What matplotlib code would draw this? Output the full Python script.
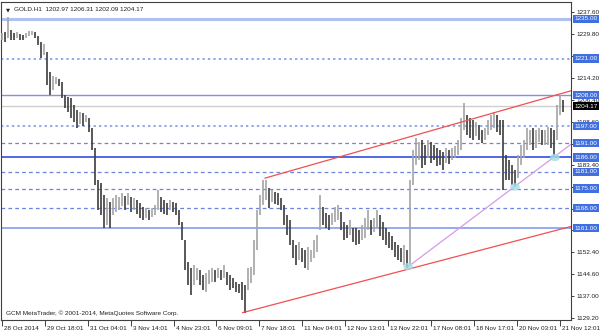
import numpy as np
import matplotlib
matplotlib.use("Agg")
import matplotlib.pyplot as plt
from matplotlib.patches import Ellipse
import matplotlib.transforms as mtransforms

plt.rcParams['font.family'] = ['Liberation Sans', 'DejaVu Sans']

# ---------------- data ----------------
highs = [1230.1, 1230.4, 1235.7, 1231.1, 1230.1, 1230.4, 1229.7, 1229.4, 1230.1, 1230.8,
         1230.8, 1230.4, 1229.0, 1226.9, 1226.2, 1223.3, 1216.3, 1214.9, 1214.5, 1213.8,
         1212.7, 1208.1, 1207.4, 1207.1, 1204.6, 1202.8, 1202.1, 1201.8, 1201.1, 1200.0,
         1196.4, 1189.4, 1178.0, 1177.0, 1172.7, 1171.7, 1170.3, 1171.7, 1172.7, 1172.0,
         1173.4, 1172.4, 1173.4, 1172.0, 1171.7, 1171.0, 1169.9, 1168.5, 1168.1, 1167.4,
         1168.1, 1169.2, 1174.5, 1172.0, 1171.0, 1169.9, 1171.0, 1170.3, 1169.9, 1167.4,
         1163.2, 1156.8, 1149.0, 1146.9, 1148.0, 1146.9, 1146.2, 1144.4, 1145.1, 1146.2,
         1146.9, 1146.2, 1146.9, 1146.2, 1148.0, 1145.5, 1144.4, 1143.4, 1142.0, 1141.2,
         1142.0, 1140.9, 1146.9, 1147.3, 1156.8, 1167.4, 1172.7, 1178.0, 1178.0, 1175.2,
         1174.5, 1173.8, 1173.4, 1171.7, 1169.2, 1165.7, 1163.9, 1156.8, 1155.0, 1156.1,
         1154.0, 1153.3, 1154.3, 1153.3, 1156.8, 1158.6, 1172.7, 1168.5, 1166.4, 1165.7,
         1166.4, 1168.5, 1169.2, 1166.7, 1163.2, 1162.1, 1163.9, 1161.1, 1161.1, 1160.4,
         1162.1, 1164.6, 1167.4, 1163.9, 1164.6, 1167.4, 1165.7, 1163.2, 1161.1, 1159.6,
         1158.2, 1156.1, 1155.0, 1154.0, 1155.0, 1153.3, 1178.0, 1188.7, 1192.9, 1191.5,
         1192.2, 1190.4, 1192.2, 1191.5, 1190.4, 1189.4, 1188.7, 1188.0, 1189.4, 1188.7,
         1189.4, 1190.1, 1192.2, 1200.0, 1205.3, 1201.1, 1200.0, 1199.3, 1198.6, 1197.5,
         1195.7, 1196.4, 1199.3, 1201.1, 1202.1, 1201.1, 1199.3, 1199.3, 1186.9, 1185.1,
         1183.4, 1181.6, 1186.9, 1190.4, 1192.2, 1196.4, 1195.7, 1196.4, 1195.7, 1196.4,
         1195.7, 1195.7, 1196.8, 1196.4, 1195.7, 1204.6, 1208.1, 1206.31]
lows = [1227.6, 1226.9, 1228.3, 1227.6, 1227.6, 1228.3, 1227.6, 1227.6, 1228.3, 1229.0,
        1229.4, 1228.3, 1225.8, 1221.2, 1222.3, 1211.7, 1208.1, 1209.9, 1212.0, 1211.3,
        1207.1, 1203.5, 1202.1, 1200.0, 1198.6, 1196.4, 1197.9, 1197.2, 1198.6, 1195.0,
        1188.7, 1176.3, 1167.4, 1165.7, 1161.1, 1162.1, 1161.1, 1165.7, 1166.7, 1167.4,
        1168.8, 1167.4, 1169.2, 1166.7, 1167.4, 1166.0, 1164.6, 1163.9, 1164.6, 1163.9,
        1165.0, 1165.7, 1167.4, 1166.7, 1166.0, 1165.7, 1167.4, 1166.7, 1165.7, 1162.1,
        1156.8, 1146.2, 1140.9, 1137.4, 1140.9, 1142.7, 1140.9, 1139.1, 1138.4, 1141.2,
        1142.0, 1142.0, 1143.4, 1142.7, 1143.4, 1140.9, 1139.1, 1139.8, 1138.4, 1138.1,
        1135.6, 1131.0, 1139.1, 1141.6, 1144.4, 1153.3, 1165.7, 1169.2, 1171.0, 1168.1,
        1170.3, 1169.6, 1169.2, 1167.4, 1162.1, 1158.6, 1155.0, 1150.4, 1148.0, 1149.7,
        1149.0, 1146.9, 1146.2, 1149.0, 1150.4, 1152.6, 1160.4, 1162.1, 1161.1, 1160.4,
        1162.1, 1163.2, 1163.9, 1160.4, 1156.8, 1157.5, 1158.6, 1156.1, 1155.0, 1155.4,
        1156.8, 1157.5, 1160.4, 1158.6, 1159.6, 1161.1, 1158.2, 1156.8, 1155.0, 1154.0,
        1153.3, 1150.8, 1149.7, 1149.0, 1148.0, 1146.9, 1148.0, 1176.3, 1183.4, 1185.1,
        1182.3, 1183.4, 1185.8, 1184.1, 1185.1, 1183.0, 1183.4, 1181.6, 1184.1, 1183.7,
        1185.1, 1185.8, 1186.9, 1188.7, 1195.7, 1194.0, 1192.9, 1192.2, 1193.6, 1192.2,
        1191.1, 1192.2, 1194.0, 1195.7, 1196.4, 1195.0, 1194.0, 1174.5, 1178.0, 1178.0,
        1176.3, 1175.6, 1178.8, 1183.4, 1185.8, 1188.7, 1190.4, 1188.7, 1189.4, 1191.5,
        1190.4, 1190.4, 1190.4, 1189.4, 1186.2, 1192.2, 1201.1, 1202.09]

x_labels = ["28 Oct 2014", "29 Oct 18:01", "31 Oct 04:01", "3 Nov 14:01", "4 Nov 23:01",
            "6 Nov 09:01", "7 Nov 18:01", "11 Nov 04:01", "12 Nov 13:01", "13 Nov 22:01",
            "17 Nov 08:01", "18 Nov 17:01", "20 Nov 03:01", "21 Nov 12:01"]
y_ticks = [1237.6, 1229.8, 1222.0, 1214.2, 1206.4, 1198.6, 1190.8, 1183.4,
           1175.6, 1167.8, 1160.2, 1152.4, 1144.6, 1137.0, 1129.2]
hidden_ticks = [1190.8, 1167.8]

solid_levels = [1235.0, 1208.0, 1186.0, 1161.0]
dotted_levels = [1221.0, 1197.0]
dashed_levels = [1191.0, 1181.0, 1175.0, 1168.0]
last_price = 1204.17
ohlc_text = "GOLD.H1  1202.97 1206.31 1202.09 1204.17"

upper_line = [(87.7, 1178.7), (189.7, 1209.6)]
lower_line = [(80.2, 1131.1), (189.7, 1161.6)]
support_line = [(135.4, 1147.4), (189.7, 1190.7)]
touch_points = [(135.4, 1147.4), (171.0, 1175.6), (184.3, 1186.0)]

# ---------------- figure ----------------
W, H = 600, 333
fig = plt.figure(figsize=(W / 100, H / 100), dpi=100)
ax = fig.add_axes([1 / W, 1 - 320 / H, 570 / W, 318 / H])
ax.set_xlim(-0.33, 189.67)
ax.set_ylim(1128.5, 1241.0)

n = len(highs)
xs = np.arange(n)
mids = (np.array(highs) + np.array(lows)) / 2
for i in range(n):
    up = i == 0 or mids[i] >= mids[i - 1]
    col = '#a4a4a4' if up else '#3c3c3c'
    ax.plot([xs[i], xs[i]], [lows[i], highs[i]], color=col, lw=1.2,
            solid_capstyle='butt', zorder=3)

# horizontal levels
lvl_col = {1235.0: ('#aec2f2', 2.2), 1208.0: ('#7b93ea', 1.0),
           1186.0: ('#4d68e6', 1.4), 1161.0: ('#7b93ea', 1.1)}
for v in solid_levels:
    c, lw = lvl_col[v]
    ax.axhline(v, color=c, lw=lw, zorder=2)
for v in dotted_levels:
    ax.axhline(v, color='#91a8ee', lw=1.4, ls=(0, (1.2, 1.6)), zorder=2)
for v in dashed_levels:
    ax.axhline(v, color='#6d84dc', lw=0.9, ls=(0, (3, 2.5)), zorder=2)
ax.axhline(last_price, color='#cfcfcf', lw=1.0, zorder=1)

# trendlines
for ln, c in [(upper_line, '#f05050'), (lower_line, '#f05050'), (support_line, '#d79be8')]:
    ax.plot([ln[0][0], ln[1][0]], [ln[0][1], ln[1][1]], color=c, lw=0.9, zorder=4)
for (px, py) in touch_points:
    ax.add_patch(Ellipse((px, py), 3.2, 2.6, facecolor='#9fe0e6', edgecolor='none',
                         alpha=0.8, zorder=5))

# axes style
for s in ['top', 'left', 'bottom', 'right']:
    ax.spines[s].set_color('#404040')
    ax.spines[s].set_linewidth(0.8)
ax.yaxis.tick_right()
ax.set_yticks(y_ticks)
ax.set_yticklabels(["" if v in hidden_ticks else f"{v:.2f}" for v in y_ticks])
ax.tick_params(axis='y', direction='out', length=2.5, width=0.6, pad=1.5,
               labelsize=4.6, colors='#202020')
ax.set_xticks(np.arange(len(x_labels)) * 14.3)
ax.set_xticklabels(x_labels)
ax.tick_params(axis='x', direction='out', length=4, width=0.6, pad=0.5,
               labelsize=4.6, colors='#202020')
for lab in ax.get_xticklabels():
    lab.set_ha('left')
    lab.set_transform(lab.get_transform() + mtransforms.ScaledTranslation(2 / 100, 0, fig.dpi_scale_trans))

# right-side level boxes
trans = mtransforms.blended_transform_factory(ax.transAxes, ax.transData)
for v in solid_levels + dotted_levels + dashed_levels:
    ax.text(1.006, v, f"{v:.2f}", transform=trans, ha='left', va='center', fontsize=4.6,
            color='white', zorder=10, clip_on=False,
            bbox=dict(boxstyle='square,pad=0.25', facecolor='#3f6fe0', edgecolor='none'))
ax.text(1.006, last_price, f"{last_price:.2f}", transform=trans, ha='left', va='center',
        fontsize=4.6, color='white', zorder=10, clip_on=False,
        bbox=dict(boxstyle='square,pad=0.25', facecolor='black', edgecolor='none'))

# header and footer text
ax.text(0.008, 0.982, "\u25BC", transform=ax.transAxes, fontsize=3.8, va='top',
        ha='left', color='#202020', family=['DejaVu Sans'])
ax.text(0.022, 0.985, ohlc_text, transform=ax.transAxes, fontsize=4.6, va='top',
        ha='left', color='#202020')
ax.text(0.008, 0.012, "GCM MetaTrader, \u00a9 2001-2014, MetaQuotes Software Corp.",
        transform=ax.transAxes, fontsize=4.6, va='bottom', ha='left', color='#202020')

fig.savefig("out.png", dpi=100, facecolor='white')
